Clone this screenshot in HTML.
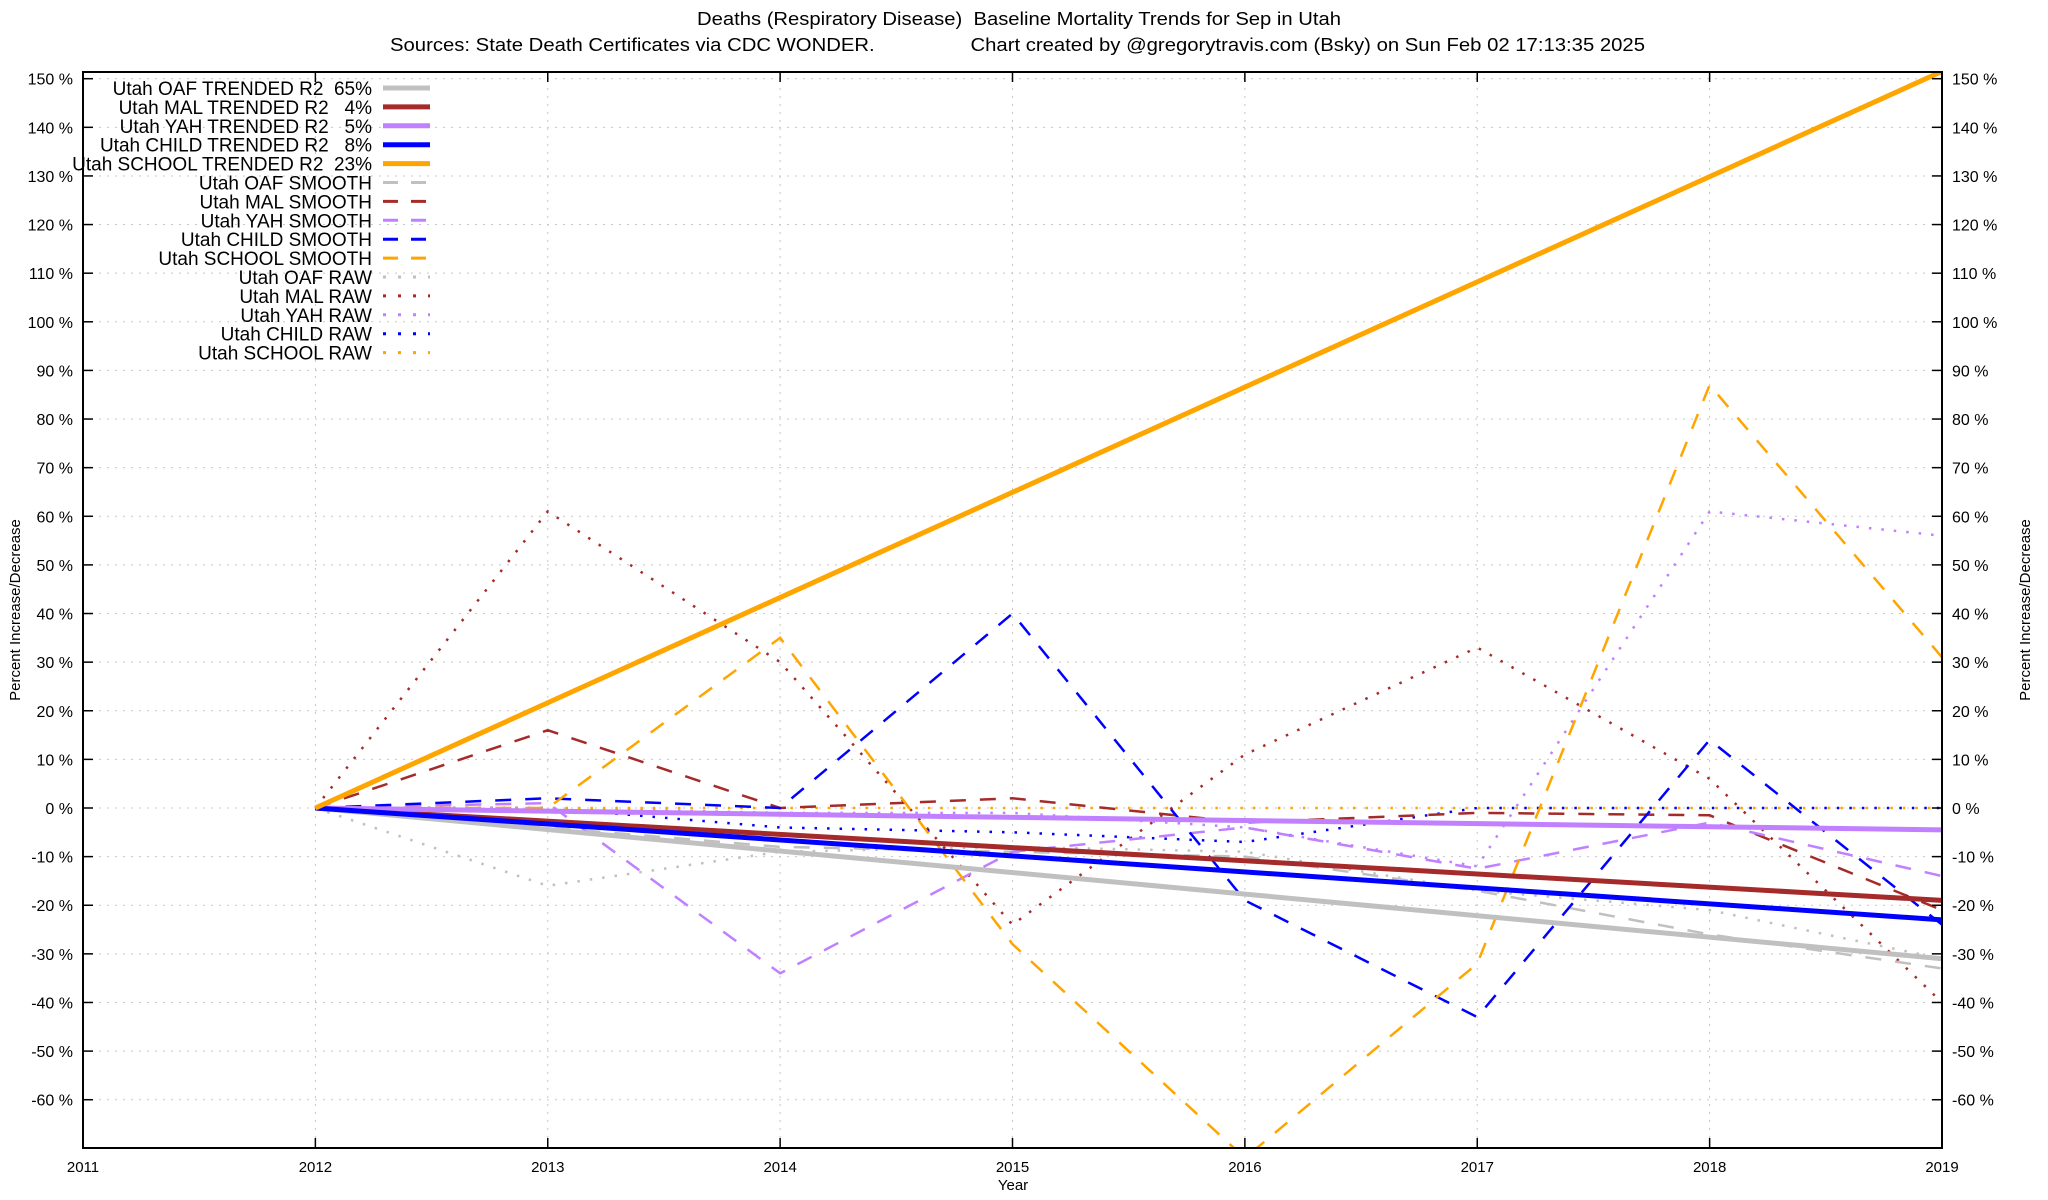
<!DOCTYPE html>
<html><head><meta charset="utf-8"><style>
html,body{margin:0;padding:0;background:#fff}
svg{display:block;font-family:"Liberation Sans",sans-serif}
text{white-space:pre}
</style></head><body>
<svg id="s" width="2048" height="1200" viewBox="0 0 2048 1200" xmlns="http://www.w3.org/2000/svg">
<defs><clipPath id="c"><rect x="83" y="72" width="1859" height="1076"/></clipPath></defs>
<g id="grid"></g>
<g id="series" clip-path="url(#c)"></g>
<rect x="83" y="72" width="1859" height="1076" fill="none" stroke="#000" stroke-width="2"/>
<g id="ticks"></g>
<text x="1019" y="25" font-size="18" text-anchor="middle" textLength="644" lengthAdjust="spacingAndGlyphs">Deaths (Respiratory Disease)  Baseline Mortality Trends for Sep in Utah</text>
<text x="390" y="51" font-size="18" textLength="1255" lengthAdjust="spacingAndGlyphs">Sources: State Death Certificates via CDC WONDER.                 Chart created by @gregorytravis.com (Bsky) on Sun Feb 02 17:13:35 2025</text>
<text x="1013" y="1190" font-size="15" text-anchor="middle">Year</text>
<text transform="translate(20,610) rotate(-90)" font-size="15" text-anchor="middle">Percent Increase/Decrease</text>
<text transform="translate(2030,610) rotate(-90)" font-size="15" text-anchor="middle">Percent Increase/Decrease</text>
<g id="legend"></g>
</svg>
<script>
var NS="http://www.w3.org/2000/svg";
function X(y){return 83+(y-2011)*232.375}
function Y(p){return 808-p*4.862}
function el(g,t,a,txt){var e=document.createElementNS(NS,t);for(var k in a)e.setAttribute(k,a[k]);if(txt!=null)e.textContent=txt;document.getElementById(g).appendChild(e);return e}
for(var p=-60;p<=150;p+=10){var y=Y(p);
el("grid","line",{x1:83,x2:1942,y1:y,y2:y,stroke:"#c8c8c8","stroke-width":1,"stroke-dasharray":"2,6"});
el("ticks","line",{x1:83,x2:93,y1:y,y2:y,stroke:"#000","stroke-width":1.5});
el("ticks","line",{x1:1932,x2:1942,y1:y,y2:y,stroke:"#000","stroke-width":1.5});
el("ticks","text",{x:73,y:y+6,"font-size":16,"text-anchor":"end"},p+" %");
el("ticks","text",{x:1952,y:y+6,"font-size":16},p+" %");}
for(var yr=2011;yr<=2019;yr++){var x=X(yr);
if(yr>2011&&yr<2019)el("grid","line",{x1:x,x2:x,y1:72,y2:1148,stroke:"#c8c8c8","stroke-width":1,"stroke-dasharray":"2,6"});
el("ticks","line",{x1:x,x2:x,y1:1148,y2:1138,stroke:"#000","stroke-width":1.5});
el("ticks","line",{x1:x,x2:x,y1:72,y2:82,stroke:"#000","stroke-width":1.5});
el("ticks","text",{x:x,y:1172,"font-size":15,"text-anchor":"middle"},yr);}
var C={OAF:"#c0c0c0",MAL:"#a52a2a",YAH:"#c080ff",CHILD:"#0000ff",SCHOOL:"#ffa500"};
var trend={OAF:[-31,"65%"],MAL:[-19,"4%"],YAH:[-4.5,"5%"],CHILD:[-23,"8%"],SCHOOL:[151.5,"23%"]};
var smooth={OAF:[0,-4,-8,-9,-10,-17,-26,-33],MAL:[0,16,0,2,-3,-1,-1.5,-21],YAH:[0,1,-34,-9,-4,-12.5,-3,-14],CHILD:[0,2,0,40,-19,-43,14,-24],SCHOOL:[0,0,35,-28,-72,-32,87,31]};
var raw={OAF:[0,-16,-9,-8,-9,-17,-21,-31],MAL:[0,61,30,-24,11,33,6,-40],YAH:[0,0,-1,-1,-4,-12,61,56],CHILD:[0,0,-4,-5,-7,0,0,0],SCHOOL:[0,0,0,0,0,0,0,0]};
function pts(a){return a.map(function(v,i){return X(2012+i)+","+Y(v)}).join(" ")}
var names=["OAF","MAL","YAH","CHILD","SCHOOL"];
names.forEach(function(n){el("series","polyline",{points:pts(raw[n]),fill:"none",stroke:C[n],"stroke-width":2.5,"stroke-dasharray":"2.5,10"})});
names.forEach(function(n){el("series","polyline",{points:pts(smooth[n]),fill:"none",stroke:C[n],"stroke-width":2.5,"stroke-dasharray":"16,14"})});
names.forEach(function(n){el("series","line",{x1:X(2012),y1:Y(0),x2:X(2019),y2:Y(trend[n][0]),stroke:C[n],"stroke-width":5})});
var row=0;
function L(label,col,dash,w){var y=88+row*18.9;
el("legend","text",{x:372,y:y+7,"font-size":19,"text-anchor":"end"},label);
var a={x1:383,x2:430,y1:y,y2:y,stroke:col,"stroke-width":w};if(dash)a["stroke-dasharray"]=dash;
el("legend","line",a);row++;}
names.forEach(function(n){var pad=trend[n][1].length<3?"   ":"  ";L("Utah "+n+" TRENDED R2"+pad+trend[n][1],C[n],null,5)});
names.forEach(function(n){L("Utah "+n+" SMOOTH",C[n],"15,13",3)});
names.forEach(function(n){L("Utah "+n+" RAW",C[n],"3,12",3)});
</script>
</body></html>
